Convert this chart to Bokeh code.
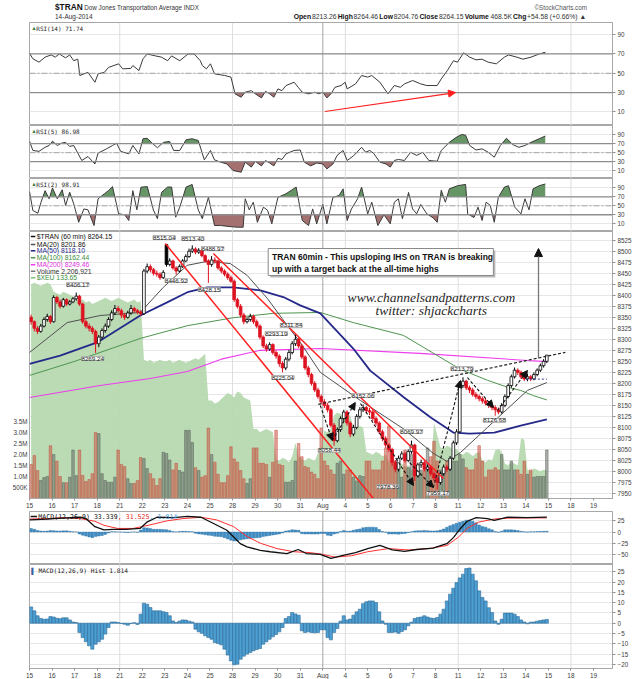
import numpy as np
from bokeh.plotting import figure
from bokeh.layouts import column
from bokeh.models import (Range1d, LinearAxis, FixedTicker, Span, Arrow,
                          NormalHead, ColumnDataSource, LabelSet)
from bokeh.core.properties import value
from bokeh.embed import file_html
from bokeh.resources import INLINE

# ======================= DATA =======================
day_labels = ["15", "16", "17", "18", "21", "22", "23", "24", "25", "28", "29", "30", "31",
              "Aug", "4", "5", "6", "7", "8", "11", "12", "13", "14", "15", "18", "19"]
week_lines = [4, 9, 14, 19, 24]
month_line = 13

first_open = 8350.0
gap_opens = {42: 8515.0}

closes = [
    8340, 8325, 8318, 8330, 8345, 8352, 8340,
    8395, 8385, 8375, 8390, 8380, 8385, 8392,
    8398, 8380, 8340, 8330, 8325, 8318, 8290,
    8305, 8320, 8330, 8345, 8360, 8370, 8365,
    8355, 8350, 8360, 8370, 8365, 8362, 8358,
    8455, 8465, 8458, 8450, 8448, 8440, 8452,
    8470, 8478, 8462, 8455, 8465, 8478, 8488,
    8500, 8505, 8498, 8502, 8490, 8478, 8470,
    8480, 8478, 8462, 8455, 8448, 8440, 8432,
    8390, 8375, 8355, 8340, 8345, 8352, 8340,
    8330, 8305, 8285, 8278, 8288, 8270, 8262,
    8245, 8235, 8255, 8270, 8290, 8300, 8285,
    8260, 8235, 8220, 8200, 8185, 8170, 8158,
    8150, 8140, 8105, 8070, 8095, 8120, 8135,
    8110, 8085, 8100, 8125, 8140, 8145, 8138,
    8135, 8120, 8110, 8090, 8075, 8060, 8050,
    8020, 8005, 8030, 8040, 8025, 8045, 8060,
    7990, 8015, 8020, 8005, 8010, 7995, 7985,
    7975, 7995, 8010, 8005, 8030, 8065, 8090,
    8195, 8205, 8190, 8185, 8175, 8170, 8165,
    8160, 8155, 8150, 8145, 8140, 8135, 8150,
    8170, 8195, 8215, 8230, 8225, 8215, 8210,
    8215, 8210, 8220, 8230, 8240, 8250, 8264.15,
]
highs = [
    8356, 8343, 8330, 8335, 8350, 8358, 8355,
    8400, 8399, 8390, 8394, 8393, 8389, 8396,
    8406.17, 8401, 8383, 8345, 8336, 8330, 8322,
    8310, 8325, 8336, 8350, 8366, 8378, 8376,
    8370, 8360, 8365, 8378, 8374, 8369, 8366,
    8460, 8472, 8470, 8462, 8456, 8452, 8457,
    8515.04, 8484, 8481, 8466, 8470, 8482, 8493,
    8506, 8513.40, 8509, 8507, 8505, 8493, 8482,
    8488.97, 8486, 8481, 8466, 8459, 8452, 8445,
    8436, 8394, 8380, 8360, 8350, 8358, 8356,
    8345, 8334, 8309, 8290, 8293.19, 8291, 8275,
    8266, 8250, 8260, 8276, 8296, 8311.84, 8304,
    8289, 8264, 8240, 8224, 8205, 8190, 8175,
    8164, 8156, 8144, 8110, 8100, 8125, 8140,
    8139, 8114, 8106, 8130, 8146, 8152.06, 8149,
    8144, 8139, 8125, 8114, 8095, 8080, 8064,
    8054, 8026, 8036, 8046, 8044, 8050, 8069.97,
    8063, 8020, 8027, 8024, 8016, 8014, 8000,
    7992, 8000, 8016, 8015, 8035, 8070, 8096,
    8200, 8213.79, 8208, 8195, 8190, 8180, 8175,
    8170, 8166, 8160, 8156, 8150, 8145, 8155,
    8175, 8200, 8220, 8236, 8234, 8229, 8220,
    8222, 8219, 8225, 8234, 8245, 8255, 8264.46,
]
lows = [
    8333, 8318, 8312, 8315, 8327, 8340, 8335,
    8338, 8380, 8370, 8372, 8376, 8377, 8382,
    8388, 8376, 8335, 8325, 8318, 8312, 8269.24,
    8282, 8300, 8315, 8326, 8341, 8355, 8360,
    8348, 8344, 8347, 8356, 8360, 8357, 8353,
    8355, 8450, 8452, 8445, 8442, 8435, 8437,
    8465, 8466, 8458, 8446.92, 8452, 8462, 8475,
    8485, 8496, 8493, 8494, 8486, 8474, 8428.15,
    8465, 8472, 8458, 8450, 8443, 8435, 8428,
    8385, 8370, 8350, 8334, 8336, 8340, 8335,
    8325, 8300, 8280, 8272, 8274, 8265, 8256,
    8238, 8225.04, 8230, 8250, 8266, 8285, 8280,
    8255, 8230, 8214, 8195, 8180, 8165, 8152,
    8144, 8134, 8100, 8058.44, 8066, 8090, 8115,
    8104, 8078, 8080, 8096, 8120, 8135, 8132,
    8128, 8115, 8104, 8085, 8069, 8054, 8044,
    8012, 7998, 8000, 8026, 8020, 8021, 8040,
    7978.36, 7986, 8008, 8000, 8000, 7990, 7978,
    7959.17, 7970, 7990, 7999, 8001, 8026, 8060,
    8088, 8190, 8185, 8178, 8170, 8164, 8159,
    8154, 8150, 8144, 8139, 8126.68, 8130, 8131,
    8146, 8166, 8190, 8211, 8219, 8210, 8205,
    8204.76, 8205, 8207, 8216, 8226, 8236, 8246,
]
volume_m = [
    1.55, 1.95, 1.27, 0.82, 0.95, 1.0, 2.4,
    2.0, 1.7, 1.0, 0.72, 0.72, 0.97, 2.2,
    1.04, 2.2, 1.05, 0.77, 0.86, 1.13, 3.0,
    2.95, 1.13, 0.82, 0.74, 0.74, 0.97, 2.2,
    1.55, 1.45, 0.9, 0.68, 0.68, 0.82, 1.86,
    1.82, 1.36, 1.13, 0.9, 0.59, 0.9, 2.1,
    2.05, 1.75, 1.3, 1.6, 1.27, 1.2, 3.1,
    3.1, 2.55, 1.4, 1.27, 0.97, 1.04, 3.2,
    2.0, 1.65, 1.1, 0.72, 0.72, 1.04, 2.35,
    1.8, 1.65, 1.27, 0.9, 0.68, 0.9, 2.3,
    2.3, 1.6, 1.6, 1.55, 0.97, 1.65, 3.1,
    1.55, 1.5, 0.74, 0.74, 0.82, 1.7, 2.5,
    1.9, 1.45, 1.4, 1.2, 1.1, 0.9, 3.2,
    1.7, 1.5, 1.3, 1.1, 1.6, 1.7, 1.1,
    1.3, 1.3, 0.97, 0.8, 1.04, 1.0, 1.7,
    1.7, 1.3, 1.3, 1.3, 1.7, 2.3, 3.3,
    2.2, 1.7, 1.3, 0.97, 2.2, 1.4, 2.0,
    1.6, 1.4, 1.3, 1.3, 2.3, 1.9, 2.6,
    1.7, 1.3, 1.3, 1.7, 1.4, 1.7, 1.7,
    2.0, 1.8, 1.4, 1.3, 1.3, 1.8, 2.4,
    1.7, 0.97, 1.3, 1.3, 1.4, 1.3, 2.0,
    1.3, 1.3, 1.7, 1.3, 1.3, 1.1, 1.7,
    1.1, 1.3, 0.97, 1.0, 1.0, 1.0, 2.2,
]
xeu_close = [
    146.0, 146.1, 146.0, 145.9, 146.0, 146.1, 146.0,
    145.5, 145.4, 145.3, 145.5, 145.4, 145.3, 145.2,
    145.0, 144.9, 145.0, 144.8, 144.9, 144.7, 144.8,
    144.9, 145.0, 145.1, 145.0, 144.9, 145.0, 145.1,
    145.0, 144.9, 144.8, 144.9, 145.0, 144.8, 144.9,
    141.0, 140.9, 141.0, 140.8, 140.9, 141.0, 140.9,
    140.9, 141.0, 140.8, 140.9, 141.0, 140.9, 140.8,
    140.9, 141.0, 141.1, 141.0, 141.2, 141.4, 138.3,
    138.3, 138.1, 138.2, 138.4, 138.6, 138.8, 138.7,
    138.5, 138.9, 138.8, 138.5, 138.4, 138.3, 136.4,
    136.4, 136.2, 136.3, 136.4, 136.3, 136.2, 134.4,
    134.3, 134.5, 134.4, 134.2, 134.6, 135.5, 134.6,
    134.4, 134.3, 134.5, 134.4, 134.3, 134.8, 135.1,
    136.3, 136.2, 136.4, 137.3, 137.5, 137.4, 137.2,
    137.4, 137.3, 136.5, 136.4, 136.6, 136.5, 134.9,
    134.8, 134.7, 134.9, 134.8, 134.6, 134.7, 134.2,
    134.1, 134.0, 134.2, 134.1, 133.9, 134.0, 133.7,
    133.6, 133.7, 133.5, 133.6, 133.7, 133.6, 136.8,
    136.0, 135.2, 135.1, 135.3, 135.2, 135.0, 135.1,
    134.8, 134.7, 134.9, 134.8, 134.6, 134.8, 134.9,
    134.3, 134.2, 134.4, 134.3, 135.0, 135.1, 134.9,
    134.1, 134.0, 134.2, 134.1, 134.0, 135.8, 135.7,
    133.7, 133.6, 133.8, 133.7, 133.6, 133.7, 133.65,
]
macd_hist = [
    7.9, 6.0, 3.6, 2.3, 1.9, 2.0, 3.2,
    3.0, 2.4, 2.2, 2.6, 2.6, 1.6, 0.6,
    0.3, -4.5, -7.0, -9.0, -11.0, -12.6, -10.2,
    -9.0, -7.8, -5.3, -2.1, 0.6, 0.6, 0.3,
    -0.2, -0.5, -1.0, -0.2, 0.2, -0.6, 4.4,
    9.7, 9.2, 7.6, 6.0, 6.0, 6.0, 5.6,
    5.2, 3.6, 1.1, 0.3, 1.0, 1.6, 1.5,
    1.0, 0.6, -2.9, -4.2, -4.9, -6.1, -7.0,
    -7.8, -9.4, -9.9, -10.5, -12.6, -15.5, -18.3,
    -20.2, -19.9, -17.5, -16.0, -15.0, -14.2, -13.4,
    -12.8, -12.3, -10.2, -9.0, -7.8, -6.6, -5.5,
    -4.2, -2.1, 2.3, 3.2, 5.2, 4.5, 3.9,
    -3.7, -4.5, -4.2, -4.5, -4.7, -4.5, -3.2,
    -3.2, -7.0, -8.1, -4.5, -2.6, 1.0, 3.6,
    1.6, 2.0, 3.9, 5.5, 6.8, 9.5, 10.4,
    10.8, 10.8, 10.0, 5.5, 1.1, -0.5, -4.5,
    -4.5, -4.3, -4.9, -4.0, -3.2, -1.3, 0.5,
    2.3, 2.8, 3.0, 3.6, 3.0, 2.5, 2.3,
    2.8, 4.4, 6.8, 10.8, 14.1, 17.0, 19.7,
    22.0, 23.8, 26.5, 26.8, 23.8, 20.6, 15.7,
    12.5, 10.8, 7.5, 5.2, 1.1, -0.5, 1.9,
    4.9, 4.9, 4.9, 4.4, 3.2, 1.6, 0.6,
    -0.3, 0.5, 0.6, 1.0, 1.3, 1.6, 1.814,
]

ma20_x = [0, 1.67, 3.13, 4.91, 5.93, 6.99, 7.88, 8.9, 9.65, 10.54, 11.43, 12.0, 12.89,
          14.67, 16.57, 17.9, 18.5, 19.1, 20.3, 21.2, 22.07, 22.93]
ma20 = [8270, 8338, 8354, 8361, 8418, 8468, 8477, 8472, 8445, 8393, 8331, 8293, 8225,
        8161, 8097, 8041, 8023, 8043, 8100, 8143, 8184, 8201.86]
ma50_x = [0, 1.36, 3.0, 4.91, 6.1, 7.0, 7.88, 9.03, 10.23, 11.25, 12.0, 12.89, 14.35,
          15.1, 16.6, 17.8, 18.8, 19.5, 20.6, 21.77, 22.93]
ma50 = [8244, 8263, 8293, 8354, 8384, 8407, 8418, 8418, 8411, 8396, 8377, 8359, 8279,
        8229, 8168, 8122, 8088, 8086, 8088, 8104, 8118.10]
ma100_x = [0, 2.0, 4.91, 7.0, 9.03, 10.8, 12.89, 14.35, 16.57, 18.8, 19.24, 20.3, 21.2,
           21.77, 22.34, 22.93]
ma100 = [8218, 8250, 8302, 8331, 8349, 8359, 8361, 8338, 8309, 8241, 8229, 8207, 8191,
         8184, 8172, 8162.44]
ma200_x = [0, 3.13, 5.35, 7.0, 8.5, 10.23, 12.89, 17.3, 22.07, 22.93]
ma200 = [8168, 8195, 8211, 8227, 8255, 8275, 8279, 8268, 8252, 8249.46]

macd_x = [0, 0.8, 1.4, 2.25, 2.5, 2.9, 3.3, 3.7, 4.3, 4.9, 5.2, 5.65, 6.4, 7.0, 7.6, 8.16,
          8.75, 9.05, 9.34, 9.64, 10.23, 10.67, 11.41, 11.91, 12.27, 12.89, 13.36, 13.9,
          14.45, 14.99, 15.53, 16.08, 16.62, 17.16, 17.89, 18.25, 18.5, 18.8, 19.1, 19.4,
          19.8, 20.3, 20.6, 21.2, 22.06, 22.93]
macd_line = [27, 29, 31, 33, 30, 12, 5, 6, 6, 8, 22, 33, 32, 35, 33, 19, 4, -11, -26, -33,
             -41, -44, -48, -39, -48, -50, -59, -52, -46, -37, -30, -40, -43, -39, -36,
             -30, -26, -12, 8, 24, 32, 30, 26, 33, 32, 33.339]
signal_x = [0, 0.8, 1.4, 2.25, 2.9, 3.3, 3.9, 4.6, 5.35, 6.1, 6.8, 7.6, 8.3, 9.05, 9.64,
            10.23, 10.97, 11.71, 12.45, 13.0, 13.54, 14.27, 14.99, 15.9, 16.8, 17.7, 18.5,
            19.0, 19.4, 19.9, 20.6, 21.2, 22.06, 22.93]
signal_line = [29, 30, 32, 30, 24, 15, 8, 8, 16, 25, 30, 33, 27, 12, -10, -25, -37, -44,
               -46, -50, -56, -53, -44, -37, -40, -37, -30, -12, 8, 22, 29, 31, 31.5, 31.525]

rsi14_x = [0.0, 0.15, 0.42, 0.69, 0.96, 1.14, 1.32, 1.6, 1.78, 1.96, 2.14, 2.23, 2.59, 2.9,
           3.04, 3.32, 3.5, 3.95, 4.13, 4.49, 4.58, 4.85, 5.03, 5.22, 5.58, 5.85, 6.12, 6.3,
           6.66, 7.03, 7.3, 7.57, 7.66, 7.84, 8.02, 8.2, 8.65, 8.93, 9.11, 9.38, 9.56, 9.83,
           10.01, 10.28, 10.46, 10.65, 10.83, 11.01, 11.19, 11.37, 11.73, 11.91, 12.09,
           12.37, 12.64, 12.82, 13.0, 13.18, 13.36, 13.54, 13.81, 13.99, 14.08, 14.45,
           14.72, 14.99, 15.17, 15.53, 15.89, 16.17, 16.44, 16.62, 16.98, 17.34, 17.61,
           18.07, 18.25, 18.52, 18.79, 18.97, 19.24, 19.51, 19.79, 20.06, 20.33, 20.69,
           21.05, 21.23, 21.6, 21.87, 22.23, 22.59, 22.86]
rsi14 = [70.8, 65, 61.5, 66.7, 69, 66.7, 70, 66, 69, 63, 64.6, 47.7, 51, 40.7, 49.4, 51, 56,
         59.8, 54.6, 55, 58, 52.8, 65, 70, 68, 66.7, 63, 68, 63, 70, 70, 63, 58, 54.6, 59.8,
         49.4, 47.7, 46, 28.7, 25.2, 30.4, 32, 28.7, 24.5, 31.3, 28.7, 25.2, 33.8, 32, 37.3,
         40.7, 35.5, 30.4, 28.7, 30.4, 28.7, 30.4, 24.5, 28.7, 35.5, 37.3, 40.7, 33.8, 39,
         47.7, 46, 47.7, 40.7, 28.7, 37.3, 35.5, 39, 42.5, 39, 37.3, 37.3, 44.2, 52.8, 63,
         61.5, 71.2, 66.7, 63.9, 64.6, 61.5, 59.8, 66.7, 69, 66.7, 64.6, 66.7, 70, 71.74]
rsi5_x = [0.0, 0.15, 0.42, 0.69, 0.87, 1.02, 1.23, 1.41, 1.6, 1.78, 1.96, 2.14, 2.32, 2.59,
          2.9, 3.04, 3.41, 3.68, 3.86, 4.04, 4.4, 4.58, 4.85, 5.03, 5.22, 5.4, 5.67, 5.94,
          6.21, 6.39, 6.66, 6.94, 7.21, 7.48, 7.75, 8.02, 8.2, 8.47, 8.75, 9.02, 9.38, 9.56,
          9.83, 10.01, 10.28, 10.46, 10.65, 10.83, 11.01, 11.19, 11.37, 11.73, 12.0, 12.18,
          12.46, 12.73, 13.0, 13.18, 13.45, 13.63, 13.9, 14.08, 14.36, 14.72, 14.9, 15.08,
          15.26, 15.53, 15.8, 15.99, 16.17, 16.35, 16.62, 16.89, 17.16, 17.43, 17.7, 18.07,
          18.25, 18.61, 18.88, 19.15, 19.33, 19.51, 19.79, 20.06, 20.33, 20.6, 20.87, 21.14,
          21.42, 21.69, 21.96, 22.23, 22.59, 22.86]
rsi5 = [75.6, 55, 53, 62, 66, 75.6, 66, 71, 73, 64, 66, 49, 32.7, 41.5, 25, 49, 58.5, 66, 71,
        53, 47.4, 66, 47, 81, 82, 73, 61, 73, 75, 55, 55, 78.7, 81, 77, 34, 55, 34, 29, 25,
        10.4, 6.7, 29, 18, 30.7, 20.7, 32.7, 27, 20.7, 37.5, 35, 47.4, 55, 56, 29, 20.7, 27,
        25, 14, 25, 43.7, 55, 32.7, 43, 62, 51, 55, 48, 29, 25, 18, 32.7, 35, 32.7, 51, 44,
        51, 32.7, 31, 55, 73, 83, 90.4, 89, 66, 56, 58.5, 51, 40, 66, 82, 68, 62, 66, 73,
        81, 86.98]
rsi2_x = [0.0, 0.15, 0.37, 0.51, 0.69, 0.87, 1.02, 1.23, 1.45, 1.6, 1.78, 1.96, 2.18, 2.41,
          2.59, 2.86, 3.04, 3.32, 3.5, 3.68, 3.95, 4.22, 4.4, 4.58, 4.76, 4.94, 5.22, 5.49,
          5.67, 5.85, 6.12, 6.3, 6.48, 6.66, 6.94, 7.21, 7.48, 7.66, 7.93, 8.2, 8.47, 8.84,
          9.2, 9.47, 9.56, 9.74, 9.92, 10.1, 10.37, 10.55, 10.74, 11.01, 11.37, 11.64,
          11.82, 12.09, 12.37, 12.55, 12.73, 13.0, 13.18, 13.45, 13.72, 13.9, 14.08, 14.27,
          14.54, 14.72, 14.99, 15.17, 15.44, 15.71, 15.99, 16.17, 16.35, 16.53, 16.8, 16.98,
          17.16, 17.34, 17.61, 17.89, 18.07, 18.25, 18.43, 18.61, 18.97, 19.33, 19.42, 19.7,
          19.88, 20.06, 20.24, 20.42, 20.6, 20.78, 21.05, 21.23, 21.51, 21.78, 21.96, 22.14,
          22.32, 22.59, 22.86]
rsi2 = [82, 39.5, 33.4, 58, 84, 65.7, 90, 65.7, 86, 50.7, 80.5, 54.5, 13, 43, 41, 5.8, 65.7,
        77, 84, 93, 32, 30, 17, 84, 41, 91.7, 93, 41, 21, 80, 92, 92, 24.5, 47, 92, 97.8, 41,
        21, 69, 5.8, 5.8, 3.6, 2, 2, 65.7, 41, 58, 13, 47, 40, 9.6, 69, 77, 86, 92, 17, 5.8,
        43, 9.6, 53, 9.6, 69, 73, 88, 17, 43, 65.7, 92, 32, 58, 5.8, 30, 9.6, 58, 65.7, 21,
        80, 43, 32, 53, 32, 23, 13, 85, 58, 88, 95, 98, 32, 23.7, 47, 17, 58, 51, 13, 69, 92,
        95, 47, 32, 65.7, 41, 88, 95, 98.91]

price_labels = ["8515.04", "8513.40", "8488.97", "8446.92", "8428.15", "8406.17", "8269.24",
                "8311.84", "8293.19", "8225.04", "8058.44", "8152.06", "8069.97", "7978.36",
                "7959.17", "8213.79", "8126.68"]
price_label_x = [5.97, 7.24, 8.12, 6.5, 7.97, 2.14, 2.8, 11.6, 10.94, 11.23, 13.29, 14.78,
                 16.93, 15.88, 18.1, 19.17, 20.61]
price_label_y = [8531.1, 8528.9, 8506.2, 8433.5, 8413.1, 8424.4, 8256.4, 8331.4, 8313.2,
                 8213.3, 8047.6, 8172.4, 8090.7, 7965.8, 7950.0, 8233.7, 8115.8]

# hand-drawn annotations (data space: day index, price)
channel_a = [(6.02, 8517.5), (15.24, 7938.6)]
channel_b = [(8.15, 8494.8), (18.35, 7984.0)]
neckline = [(12.8, 8152.5), (23.75, 8270.5)]
ihs_arrows = [((12.89, 8149.7), (13.42, 8070.3)), ((13.42, 8070.3), (14.44, 8156.6)),
              ((14.67, 8154.3), (17.02, 7968.2)), ((16.85, 8020.0), (17.9, 7963.6)),
              ((17.9, 7963.6), (19.1, 8206.5)), ((19.41, 8213.3), (20.56, 8145.2)),
              ((20.74, 8138.4), (22.07, 8229.2))]
target_arrow = ((22.56, 8256.4), (22.56, 8506.0))
prev_close_line = [(22.0, 8209.6), (22.93, 8209.6)]
rsi_arrow = ((13.09, 10.4), (18.88, 30.0))
note_box = (10.58, 20.56, 8444.9, 8506.2)
note_lines = ["TRAN 60min - This upsloping IHS on TRAN is breaking",
              "up with a target back at the all-time highs"]
watermark = ["www.channelsandpatterns.com", "twitter: shjackcharts"]
watermark_x = [14.1, 15.34]
watermark_y = [8394.8, 8365.4]
quote_items = [("Open", True), ("8213.26", False), ("High", True), ("8264.46", False),
               ("Low", True), ("8204.76", False), ("Close", True), ("8264.15", False),
               ("Volume", True), ("468.5K", False), ("Chg", True),
               ("+54.58 (+0.66%) \u25b2", False)]

# ======================= LAYOUT / STYLE =======================
FONT = "Liberation Sans"
MONO = "DejaVu Sans Mono"
W = 640
LB, RB = 29, 28
XR = Range1d(0, 25.84)
PX_PER_DAY = (W - LB - RB) / 25.84

n = len(closes)
xb = np.array([i // 7 + (i % 7 + 0.5) / 7 for i in range(n)])
c = np.array(closes, float)
prev = np.concatenate([[first_open], c[:-1]])
o = prev.copy()
for k, v in gap_opens.items():
    o[k] = v
RED = "#de1220"
line_col = [("#000000" if c[i] >= prev[i] else RED) for i in range(n)]
fill_col = [("#ffffff" if c[i] >= o[i] else line_col[i]) for i in range(n)]
vol_col = [("#5f665f" if c[i] >= prev[i] else "#c8503f") for i in range(n)]


def style_axis(ax, fs="6.3px"):
    ax.major_label_text_font = FONT
    ax.major_label_text_font_size = fs
    ax.major_label_text_color = "#404040"
    ax.axis_line_color = "#a8a8a8"
    ax.major_tick_line_color = "#909090"
    ax.major_tick_out = 3
    ax.major_tick_in = 0
    ax.minor_tick_out = 0
    ax.minor_tick_in = 0
    ax.major_label_standoff = 2


def make_panel(fh, y0, y1, yticks, show_x=False):
    p = figure(width=W, frame_height=fh, x_range=XR, y_range=Range1d(y0, y1),
               output_backend="svg", toolbar_location=None, y_axis_location="right",
               x_axis_location=("below" if show_x else None),
               min_border_left=LB, min_border_right=RB, min_border_top=0, min_border_bottom=0)
    p.outline_line_color = "#a8a8a8"
    p.xgrid.visible = False
    p.ygrid.ticker = FixedTicker(ticks=yticks)
    p.ygrid.grid_line_color = "#e6e6e6"
    p.yaxis.ticker = FixedTicker(ticks=yticks)
    for ax in p.yaxis:
        style_axis(ax)
    if show_x:
        p.xaxis.ticker = FixedTicker(ticks=list(range(len(day_labels))))
        p.xaxis.major_label_overrides = {i: lab for i, lab in enumerate(day_labels)}
        for ax in p.xaxis:
            style_axis(ax, "6.5px")
            ax.major_tick_out = 2
            ax.major_label_standoff = 1
    for d in week_lines:
        p.add_layout(Span(location=d, dimension="height", line_color="#dedede",
                          line_width=1, level="underlay"))
    p.add_layout(Span(location=month_line, dimension="height", line_color="#a6a6a6",
                      line_width=1, level="underlay"))
    return p


def clip_to(xs, vs, thr, above):
    ox, oy = [], []
    for i in range(len(xs)):
        if i > 0:
            v0, v1 = vs[i - 1], vs[i]
            if (v0 - thr) * (v1 - thr) < 0:
                t = (thr - v0) / (v1 - v0)
                ox.append(xs[i - 1] + t * (xs[i] - xs[i - 1]))
                oy.append(thr)
        ox.append(xs[i])
        oy.append(max(vs[i], thr) if above else min(vs[i], thr))
    return ox, oy


def top_y(p, fh, px):
    y0, y1 = p.y_range.start, p.y_range.end
    return y1 - px * (y1 - y0) / fh


def rsi_panel(fh, y0, y1, xs, vs, title):
    p = make_panel(fh, y0, y1, [10, 30, 50, 70, 90])
    ax_, ay_ = clip_to(xs, vs, 70, True)
    p.varea(x=ax_, y1=70, y2=ay_, fill_color="#5e8f5e", fill_alpha=0.95)
    bx_, by_ = clip_to(xs, vs, 30, False)
    p.varea(x=bx_, y1=by_, y2=30, fill_color="#9f6868", fill_alpha=0.95)
    for lvl in (70, 30):
        p.add_layout(Span(location=lvl, dimension="width", line_color="#8e8e8e", line_width=1.3))
    p.add_layout(Span(location=50, dimension="width", line_color="#a4a4a4", line_width=1,
                      line_dash="6 2 2 2"))
    p.line(xs, vs, line_color="#3a3a3a", line_width=1)
    ly = top_y(p, fh, 5.5)
    p.text(x=[0.08], y=[ly], text=["\u25b2"], text_font_size="5.5px", text_color="#3f7f3f",
           text_baseline="middle")
    p.text(x=[0.3], y=[ly], text=[title], text_font=value(MONO), text_font_size="6px",
           text_color="#222222", text_baseline="middle")
    return p


# Arial-like advance widths (per 1000 em) used to lay out the quote line
REG_W = {".": 278, "+": 584, "(": 333, ")": 333, "%": 889, "K": 667, " ": 278, "\u25b2": 700}
BOLD_W = {"O": 778, "p": 611, "e": 556, "n": 611, "H": 722, "i": 278, "g": 611, "L": 611,
          "o": 611, "w": 778, "C": 722, "l": 278, "s": 556, "V": 667, "u": 611, "m": 889,
          "h": 611}
RENDER_WIDEN = 1.15


def text_w(s, bold, fs):
    tab = BOLD_W if bold else REG_W
    return RENDER_WIDEN * sum(tab.get(ch, 556) for ch in s) * fs / 1000.0


# ---------------- header ----------------
HH = 22
hdr = figure(width=W, height=HH, x_range=Range1d(0, W), y_range=Range1d(0, HH),
             output_backend="svg", toolbar_location=None, x_axis_location=None,
             y_axis_location=None, min_border=0)
hdr.grid.visible = False
hdr.outline_line_color = None
hdr.text(x=[28], y=[HH - 6.5], text=["$TRAN"], text_font=value(FONT), text_font_style="bold",
         text_font_size="8.3px", text_baseline="middle", text_color="#111111")
hdr.text(x=[60], y=[HH - 6.5], text=["Dow Jones Transportation Average INDX"],
         text_font=value(FONT), text_font_size="6.3px", text_baseline="middle",
         text_color="#333333")
hdr.text(x=[28], y=[HH - 16], text=["14-Aug-2014"], text_font=value(FONT),
         text_font_size="6.5px", text_baseline="middle", text_color="#333333")
hdr.text(x=[612], y=[HH - 6.5], text=["\u00a9StockCharts.com"], text_font=value(FONT),
         text_font_size="6.3px", text_baseline="middle", text_align="right",
         text_color="#555555")
QFS = 6.8
QX0, QX1 = 290.0, 612.0
glyph_total = sum(text_w(t, b, QFS) for t, b in quote_items)
gap = (QX1 - QX0 - glyph_total) / (len(quote_items) - 1)
qx = QX0
for txt, bold in quote_items:
    hdr.text(x=[qx], y=[HH - 16], text=[txt], text_font=value(FONT),
             text_font_style=("bold" if bold else "normal"), text_font_size="%.1fpx" % QFS,
             text_baseline="middle", text_color=("#111111" if bold else "#333333"))
    qx += text_w(txt, bold, QFS) + gap

# ---------------- RSI panels ----------------
p14 = rsi_panel(103, -4.1, 102.6, rsi14_x, rsi14, "RSI(14) 71.74")
p14.add_layout(Arrow(end=NormalHead(size=7, fill_color="#ff2020", line_color="#ff2020"),
                     x_start=rsi_arrow[0][0], y_start=rsi_arrow[0][1],
                     x_end=rsi_arrow[1][0], y_end=rsi_arrow[1][1],
                     line_color="#ff2020", line_width=1.2))
p5 = rsi_panel(53, -7.3, 110.4, rsi5_x, rsi5, "RSI(5) 86.98")
p2 = rsi_panel(53, -7.6, 111.2, rsi2_x, rsi2, "RSI(2) 98.91")

# ---------------- price panel ----------------
MH = 267
main = make_panel(MH, 7938.6, 8544.8, list(range(7950, 8526, 25)), show_x=True)
main.extra_y_ranges = {"vol": Range1d(0, 12.14e6), "xeu": Range1d(131.8, 149.5)}
vt = [0.5e6, 1.0e6, 1.5e6, 2.0e6, 2.5e6, 3.0e6, 3.5e6]
vax = LinearAxis(y_range_name="vol", ticker=FixedTicker(ticks=vt),
                 major_label_overrides={500000: "500K", 1000000: "1.0M", 1500000: "1.5M",
                                        2000000: "2.0M", 2500000: "2.5M", 3000000: "3.0M",
                                        3500000: "3.5M"})
style_axis(vax)
vax.axis_line_color = None
vax.major_tick_out = 0
main.add_layout(vax, "left")

main.varea(x=xb, y1=131.8, y2=xeu_close, y_range_name="xeu", fill_color="#b4d8ae",
           fill_alpha=0.92)
main.vbar(x=xb, width=0.11, bottom=0, top=np.array(volume_m) * 1e6, y_range_name="vol",
          fill_color=vol_col, line_color=vol_col, fill_alpha=0.5, line_alpha=0.55)

main.line(ma200_x, ma200, line_color="#ee3cee", line_width=1.1)
main.line(ma100_x, ma100, line_color="#4f944f", line_width=1)
main.line(ma50_x, ma50, line_color="#25298a", line_width=1.8)
main.line(ma20_x, ma20, line_color="#505050", line_width=1)

main.segment(x0=xb, y0=lows, x1=xb, y1=highs, line_color=line_col, line_width=1)
main.vbar(x=xb, width=0.12, top=np.maximum(o, c), bottom=np.minimum(o, c),
          fill_color=fill_col, line_color=line_col, line_width=0.8)

for ln in (channel_a, channel_b):
    main.line([ln[0][0], ln[1][0]], [ln[0][1], ln[1][1]], line_color="#ff1f1f", line_width=1.5)
main.line([neckline[0][0], neckline[1][0]], [neckline[0][1], neckline[1][1]],
          line_color="#202020", line_width=1.2, line_dash="3 2")
main.line([prev_close_line[0][0], prev_close_line[1][0]],
          [prev_close_line[0][1], prev_close_line[1][1]],
          line_color="#3a3aa0", line_width=1, line_dash="2 2")
for (a, b) in ihs_arrows:
    main.add_layout(Arrow(end=NormalHead(size=7, fill_color="#111111", line_color="#111111"),
                          x_start=a[0], y_start=a[1], x_end=b[0], y_end=b[1],
                          line_color="#111111", line_width=1.1, line_dash="3 2"))
main.add_layout(Arrow(end=NormalHead(size=8, fill_color="#111111", line_color="#111111"),
                      x_start=target_arrow[0][0], y_start=target_arrow[0][1],
                      x_end=target_arrow[1][0], y_end=target_arrow[1][1],
                      line_color="#777777", line_width=1.3))

lab_src = ColumnDataSource(dict(x=price_label_x, y=price_label_y, t=price_labels))
main.add_layout(LabelSet(x="x", y="y", text="t", source=lab_src, text_align="center",
                         text_baseline="middle", text_font_size="6.2px",
                         text_font=value(FONT), text_color="#222222",
                         background_fill_color="white", background_fill_alpha=0.85,
                         border_line_color="#a0a0a0", border_line_width=0.8))

# note box with shadow
l_, r_, b_, t_ = note_box
dx = 2.0 / PX_PER_DAY
dy = 2.0 * (8544.8 - 7938.6) / MH
main.quad(left=[l_ + dx], right=[r_ + dx], bottom=[b_ - dy], top=[t_ - dy],
          fill_color="#b8b8b8", line_color=None)
main.quad(left=[l_], right=[r_], bottom=[b_], top=[t_], fill_color="white",
          line_color="#8a8a8a", line_width=1)
main.text(x=[l_ + 0.17, l_ + 0.17], y=[t_ - (t_ - b_) * 0.33, t_ - (t_ - b_) * 0.76],
          text=note_lines, text_font=value(FONT), text_font_style="bold",
          text_font_size="8.5px", text_baseline="middle", text_color="#111111")

main.text(x=watermark_x, y=watermark_y, text=watermark,
          text_font=value("Liberation Serif"), text_font_style="italic",
          text_font_size="13.5px", text_align="left", text_baseline="middle",
          text_color="#262626")

# legend of the price panel
leg = [("$TRAN (60 min) 8264.15", "#111111", "#111111"),
       ("MA(20) 8201.86", "#111111", "#505050"),
       ("MA(50) 8118.10", "#25298a", "#25298a"),
       ("MA(100) 8162.44", "#3c8c3c", "#4f944f"),
       ("MA(200) 8249.46", "#e033e0", "#ee3cee"),
       ("Volume 2,206,921", "#333333", "#777777"),
       ("$XEU 133.65", "#3c8c3c", "#7fbf7a")]
leg_px = [5, 13, 19.3, 26.3, 33.3, 39.7, 46.3]
for (txt, tc, lc), lp in zip(leg, leg_px):
    yy = top_y(main, MH, lp)
    main.segment(x0=[0.06], y0=[yy], x1=[0.26], y1=[yy], line_color=lc, line_width=1.6)
    main.text(x=[0.32], y=[yy], text=[txt], text_font=value(FONT), text_font_size="6.8px",
              text_baseline="middle", text_color=tc)

# ---------------- MACD panel ----------------
macd_p = make_panel(53, -72.5, 45.8, [-50, -25, 0, 25])
macd_p.vbar(x=xb, width=0.12, bottom=0, top=macd_hist, fill_color="#3f90c8",
            line_color="#2a6d9e", line_width=0.4)
macd_p.line(signal_x, signal_line, line_color="#ff3030", line_width=1)
macd_p.line(macd_x, macd_line, line_color="#111111", line_width=1.3)
my = top_y(macd_p, 53, 5)
macd_p.segment(x0=[0.05], y0=[my], x1=[0.33], y1=[my], line_color="#111111", line_width=1.6)
cw = 0.602 * 6.6 / PX_PER_DAY
xpos = 0.39
for txt, col in [("MACD(12,26,9) 33.339", "#111111"), (", 31.525", "#e82a20"),
                 (", 1.814", "#3a8fd0")]:
    macd_p.text(x=[xpos], y=[my], text=[txt], text_font=value(MONO), text_font_size="6.6px",
                text_baseline="middle", text_color=col)
    xpos += len(txt) * cw

# ---------------- MACD histogram panel ----------------
HP = 104
hist_p = make_panel(HP, -22.0, 28.5, [-20, -15, -10, -5, 0, 5, 10, 15, 20, 25], show_x=True)
hist_p.vbar(x=xb, width=0.14, bottom=0, top=macd_hist, fill_color="#4d9fd2",
            line_color="#2b6a98", line_width=0.6)
hy = top_y(hist_p, HP, 6)
hist_p.text(x=[0.08], y=[hy], text=["\u258c"], text_font_size="6px", text_color="#3a5fa0",
            text_baseline="middle")
hist_p.text(x=[0.4], y=[hy], text=["MACD(12,26,9) Hist 1.814"], text_font=value(MONO),
            text_font_size="6.2px", text_baseline="middle", text_color="#222222")

layout = column(hdr, p14, p5, p2, main, macd_p, hist_p)
open("out.html", "w").write(file_html(layout, INLINE, title="TRAN 60 min"))
